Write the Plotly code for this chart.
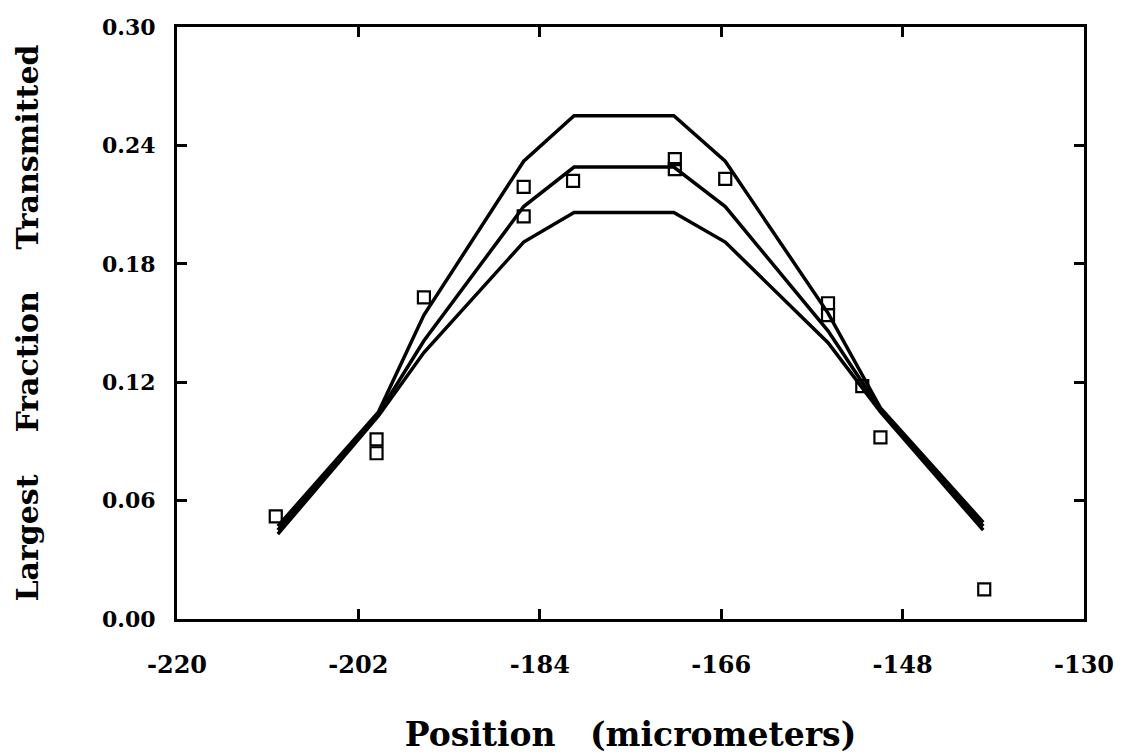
import plotly.graph_objects as go

# Measured points (open squares)
pts_x = [-210.2, -200.2, -200.2, -195.5, -185.6, -185.6, -180.7, -170.6, -170.6,
         -165.6, -155.4, -155.4, -152.0, -150.2, -139.9]
pts_y = [0.052, 0.091, 0.084, 0.163, 0.219, 0.204, 0.222, 0.233, 0.228,
         0.223, 0.160, 0.154, 0.118, 0.092, 0.015]

# Model curves
line_x = [-210.0, -200.0, -195.5, -185.6, -180.6, -170.7, -165.6, -155.4, -150.2, -140.0]
upper = [0.047, 0.105, 0.154, 0.232, 0.255, 0.255, 0.232, 0.155, 0.107, 0.049]
middle = [0.045, 0.104, 0.141, 0.209, 0.229, 0.229, 0.209, 0.146, 0.106, 0.047]
lower = [0.043, 0.103, 0.135, 0.191, 0.206, 0.206, 0.191, 0.140, 0.105, 0.045]

x_ticks = [-220, -202, -184, -166, -148, -130]
y_ticks = [0.00, 0.06, 0.12, 0.18, 0.24, 0.30]

FONT = "DejaVu Serif"
NB = "\u00a0"

fig = go.Figure()
for name, ys in [("upper", upper), ("middle", middle), ("lower", lower)]:
    fig.add_trace(go.Scatter(x=line_x, y=ys, mode="lines", name=name,
                             line=dict(color="black", width=3.5), showlegend=False))
fig.add_trace(go.Scatter(x=pts_x, y=pts_y, mode="markers", name="measured",
                         marker=dict(symbol="square-open", size=12, color="black",
                                     line=dict(width=2.2, color="black")),
                         showlegend=False))

fig.update_layout(
    width=1130, height=754,
    margin=dict(l=177, r=46, t=27, b=135, autoexpand=False),
    paper_bgcolor="white", plot_bgcolor="white",
    font=dict(family=FONT, color="black"),
)
fig.update_xaxes(
    range=[-220, -130], tickvals=x_ticks, ticktext=[str(v) for v in x_ticks],
    showgrid=False, zeroline=False, automargin=False,
    showline=True, linecolor="black", linewidth=3, mirror="allticks",
    ticks="inside", ticklen=10, tickwidth=3, tickcolor="black",
    tickfont=dict(family=FONT, size=24, color="black", weight="bold"),
    ticklabelstandoff=22,
    title=dict(text=f"<b>Position{NB}{NB}{NB}(micrometers)</b>",
               font=dict(family=FONT, size=33, color="black"), standoff=50),
)
fig.update_yaxes(
    range=[0, 0.30], tickvals=y_ticks, ticktext=[f"{v:.2f}" for v in y_ticks],
    showgrid=False, zeroline=False, automargin=False,
    showline=True, linecolor="black", linewidth=3, mirror="allticks",
    ticks="inside", ticklen=10, tickwidth=3, tickcolor="black",
    tickfont=dict(family=FONT, size=22, color="black", weight="bold"),
    ticklabelstandoff=14,
    title=dict(text=f"<b>Largest{NB}{NB}{NB}{NB}Fraction{NB}{NB}{NB}{NB}Transmitted</b>",
               font=dict(family=FONT, size=30, color="black"), standoff=55),
)

fig.write_html("out.html")
